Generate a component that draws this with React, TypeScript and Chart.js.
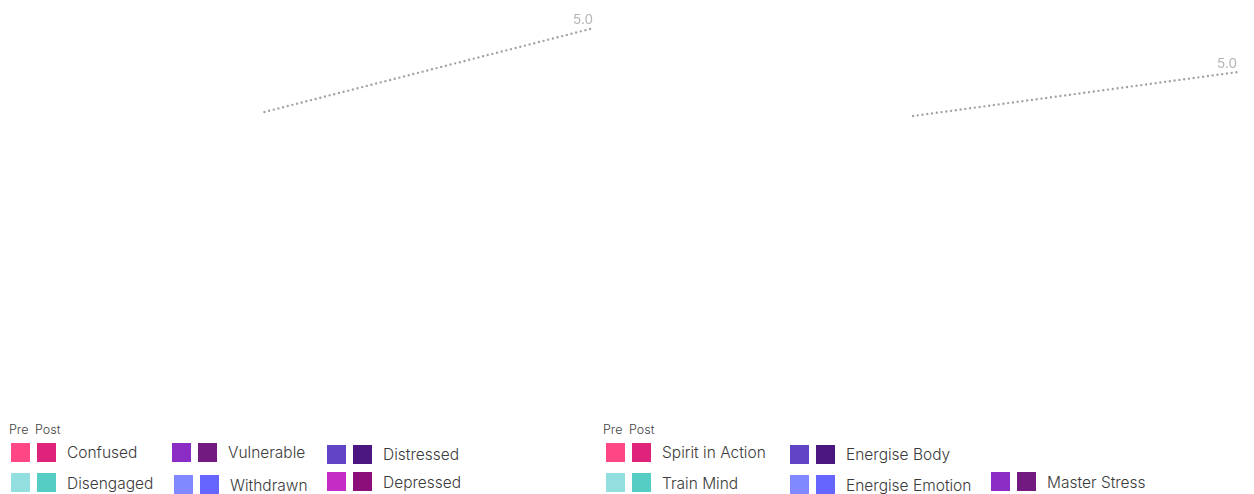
import React, { useEffect, useRef } from "react";
import { Chart, registerables } from "chart.js";

Chart.register(...registerables);

// ---- data ----
const leftLineX = [0, 5.0];
const leftLineY = [0, 1.0];
const rightLineX = [0, 5.0];
const rightLineY = [0, 1.0];
const endLabel = "5.0";

const leftLegendNames = ["Confused", "Disengaged", "Vulnerable", "Withdrawn", "Distressed", "Depressed"];
const leftPreColors = ["#ff4785", "#93dfe0", "#8b2cc4", "#8089ff", "#6145c6", "#c52cc6"];
const leftPostColors = ["#e0237a", "#55cdc5", "#731a80", "#6666ff", "#4b1680", "#8c0e7a"];

const rightLegendNames = ["Spirit in Action", "Train Mind", "Energise Body", "Energise Emotion", "Master Stress"];
const rightPreColors = ["#ff4785", "#93dfe0", "#6145c6", "#8089ff", "#8b2cc4"];
const rightPostColors = ["#e0237a", "#55cdc5", "#4b1680", "#6666ff", "#731a80"];

const FONT = "Inter, 'Noto Sans', sans-serif";

const endLabelPlugin = {
  id: "endLabel",
  afterDatasetsDraw(chart: any) {
    const meta = chart.getDatasetMeta(0);
    const pts = meta.data;
    if (!pts.length) return;
    const last = pts[pts.length - 1];
    const ctx = chart.ctx;
    ctx.save();
    ctx.fillStyle = "#b3b3b3";
    ctx.font = `13.5px ${FONT}`;
    ctx.textAlign = "center";
    ctx.textBaseline = "alphabetic";
    ctx.fillText(endLabel, last.x - 11, last.y - 4);
    ctx.restore();
  },
};

function LineChart(props: { xs: number[]; ys: number[]; xMin: number; xMax: number; yMin: number; yMax: number }) {
  const ref = useRef<HTMLCanvasElement>(null);
  useEffect(() => {
    const data = props.xs.map((x, i) => ({ x, y: props.ys[i] }));
    const chart = new Chart(ref.current!, {
      type: "scatter",
      data: {
        datasets: [
          {
            data,
            showLine: true,
            borderColor: "#a3a3a3",
            borderWidth: 2.4,
            borderDash: [0, 4.8],
            borderCapStyle: "round",
            pointRadius: 0,
            fill: false,
          } as any,
        ],
      },
      options: {
        animation: false,
        responsive: false,
        maintainAspectRatio: false,
        layout: { padding: 0 },
        plugins: { legend: { display: false }, tooltip: { enabled: false } },
        scales: {
          x: { type: "linear", display: false, min: props.xMin, max: props.xMax },
          y: { type: "linear", display: false, min: props.yMin, max: props.yMax },
        },
      },
      plugins: [endLabelPlugin],
    });
    return () => chart.destroy();
  }, []);
  return <canvas ref={ref} width={619} height={410} style={{ display: "block", width: 619, height: 410 }} />;
}

type Item = { name: string; pre: string; post: string; x: number; y: number; labelDy?: number };

function Legend(props: { items: Item[]; px: number }) {
  return (
    <>
      <div style={{ position: "absolute", left: props.px, top: 422, fontSize: 12.5, color: "#444", fontFamily: FONT, fontWeight: 300 }}>
        Pre
      </div>
      <div style={{ position: "absolute", left: props.px + 26, top: 422, fontSize: 12.5, color: "#444", fontFamily: FONT, fontWeight: 300 }}>
        Post
      </div>
      {props.items.map((it) => (
        <React.Fragment key={it.name}>
          <div style={{ position: "absolute", left: it.x, top: it.y, width: 19, height: 19, background: it.pre }} />
          <div style={{ position: "absolute", left: it.x + 26, top: it.y, width: 19, height: 19, background: it.post }} />
          <div
            style={{
              position: "absolute",
              left: it.x + 56,
              top: it.y + (it.labelDy ?? 0),
              fontSize: 15.5,
              lineHeight: "20px",
              color: "#3a3a3a",
              fontFamily: FONT,
              fontWeight: 300,
              whiteSpace: "nowrap",
            }}
          >
            {it.name}
          </div>
        </React.Fragment>
      ))}
    </>
  );
}

export default function App() {
  const leftPos = [
    [11, 443, 0],
    [11, 473, 1],
    [172, 443, 0],
    [174, 475, 1],
    [327, 445, 0],
    [327, 472, 1],
  ];
  const rightPos = [
    [606, 443, 0],
    [606, 473, 1],
    [790, 445, 0],
    [790, 475, 1],
    [991, 472, 1],
  ];
  const leftItems: Item[] = leftLegendNames.map((n, i) => ({
    name: n,
    pre: leftPreColors[i],
    post: leftPostColors[i],
    x: leftPos[i][0],
    y: leftPos[i][1],
    labelDy: leftPos[i][2],
  }));
  const rightItems: Item[] = rightLegendNames.map((n, i) => ({
    name: n,
    pre: rightPreColors[i],
    post: rightPostColors[i],
    x: rightPos[i][0],
    y: rightPos[i][1],
    labelDy: rightPos[i][2],
  }));
  return (
    <div style={{ position: "relative", width: 1238, height: 486, margin: 0 }}>
      <div style={{ position: "absolute", left: 0, top: -8 }}>
        <LineChart xs={leftLineX} ys={leftLineY} xMin={-3.891} xMax={5.5} yMin={-3.548} yMax={1.333} />
      </div>
      <div style={{ position: "absolute", left: 619, top: -8 }}>
        <LineChart xs={rightLineX} ys={rightLineY} xMin={-4.4} xMax={5.123} yMin={-6.682} yMax={2.636} />
      </div>
      <div style={{ position: "absolute", left: -8, top: -8 }}>
        <Legend items={leftItems} px={9} />
        <Legend items={rightItems} px={603} />
      </div>
    </div>
  );
}
